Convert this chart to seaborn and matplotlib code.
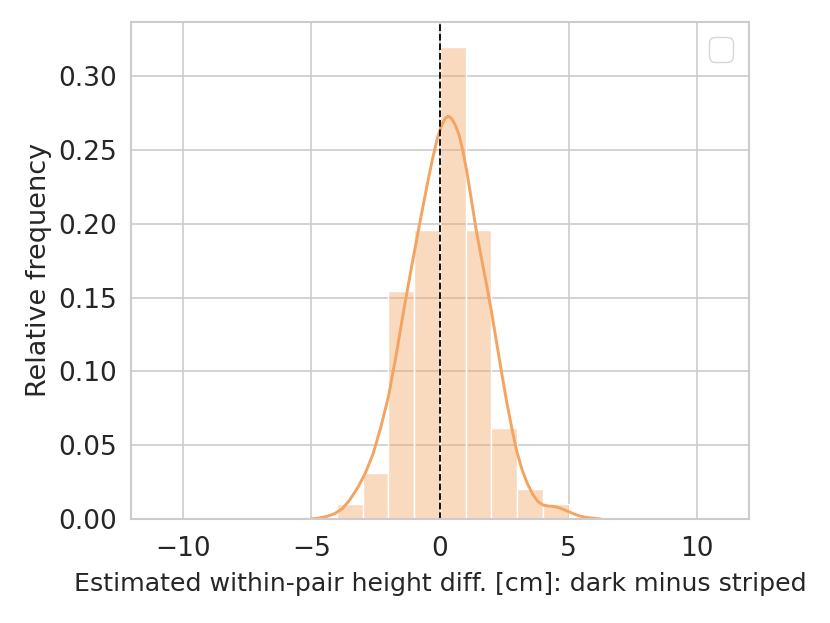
import numpy as np
import pandas as pd
import matplotlib
matplotlib.use("Agg")
import matplotlib.pyplot as plt
import seaborn as sns

# histogram: bin edges and counts (97 pairs)
bin_edges = [-4, -3, -2, -1, 0, 1, 2, 3, 4, 5]
bin_counts = [1, 3, 15, 19, 31, 19, 6, 2, 1]

# density curve
kde_x = [-5.0, -4.7, -4.4, -4.1, -3.8, -3.5, -3.2, -2.9, -2.6, -2.3, -2.0,
         -1.7, -1.4, -1.1, -0.8, -0.5, -0.3, -0.1, 0.05, 0.2, 0.32, 0.45,
         0.6, 0.75, 0.9, 1.05, 1.2, 1.4, 1.6, 1.8, 2.0, 2.2, 2.4, 2.6, 2.8,
         3.0, 3.2, 3.4, 3.6, 3.8, 4.0, 4.2, 4.4, 4.6, 4.8, 5.0, 5.2, 5.4,
         5.6, 5.9, 6.24]
kde_y = [0.0, 0.0006, 0.0017, 0.0035, 0.0068, 0.013, 0.021, 0.031, 0.044,
         0.062, 0.083, 0.111, 0.142, 0.171, 0.199, 0.226, 0.243, 0.258, 0.266,
         0.2715, 0.273, 0.2715, 0.267, 0.260, 0.249, 0.235, 0.219, 0.197,
         0.178, 0.160, 0.141, 0.120, 0.099, 0.079, 0.061, 0.045, 0.033, 0.024,
         0.017, 0.012, 0.0095, 0.0088, 0.0085, 0.0078, 0.0065, 0.005, 0.0035,
         0.0022, 0.0013, 0.0006, 0.0]

centers = [(a + b) / 2 for a, b in zip(bin_edges[:-1], bin_edges[1:])]
hist_df = pd.DataFrame({"diff": centers, "n": bin_counts})
kde_df = pd.DataFrame({"x": kde_x, "y": kde_y})

sns.set_style("whitegrid")
plt.rcParams["font.family"] = ["DejaVu Sans"]

fig, ax = plt.subplots(figsize=(8.3, 6.23), dpi=100)
fig.subplots_adjust(left=0.158, right=0.902, top=0.965, bottom=0.167)

col = "sandybrown"
sns.histplot(data=hist_df, x="diff", weights="n", bins=bin_edges, stat="probability",
             color=col, alpha=0.4, edgecolor="white", linewidth=1, ax=ax)
sns.lineplot(data=kde_df, x="x", y="y", color=col, linewidth=2.1, ax=ax)
ax.axvline(0, color="black", linestyle="--", linewidth=1.3)

ax.set_xlim(-12, 12)
ax.set_ylim(0, 0.337)
ax.set_xticks([-10, -5, 0, 5, 10])
ax.set_yticks([0, 0.05, 0.10, 0.15, 0.20, 0.25, 0.30])
ax.set_yticklabels(["0.00", "0.05", "0.10", "0.15", "0.20", "0.25", "0.30"])
ax.tick_params(labelsize=19, pad=7, colors="#262626")
ax.tick_params(axis="x", pad=9)
ax.set_xlabel("Estimated within-pair height diff. [cm]: dark minus striped", fontsize=18.2,
              color="#262626", labelpad=7)
ax.set_ylabel("Relative frequency", fontsize=19.5, color="#262626", labelpad=4)
for s in ax.spines.values():
    s.set_color("#cccccc")
    s.set_linewidth(1.5)
ax.grid(color="#cccccc", linewidth=1.2)
ax.set_axisbelow(True)

ax.legend(loc="upper right", fontsize=22)

plt.savefig("out.png", dpi=100)
